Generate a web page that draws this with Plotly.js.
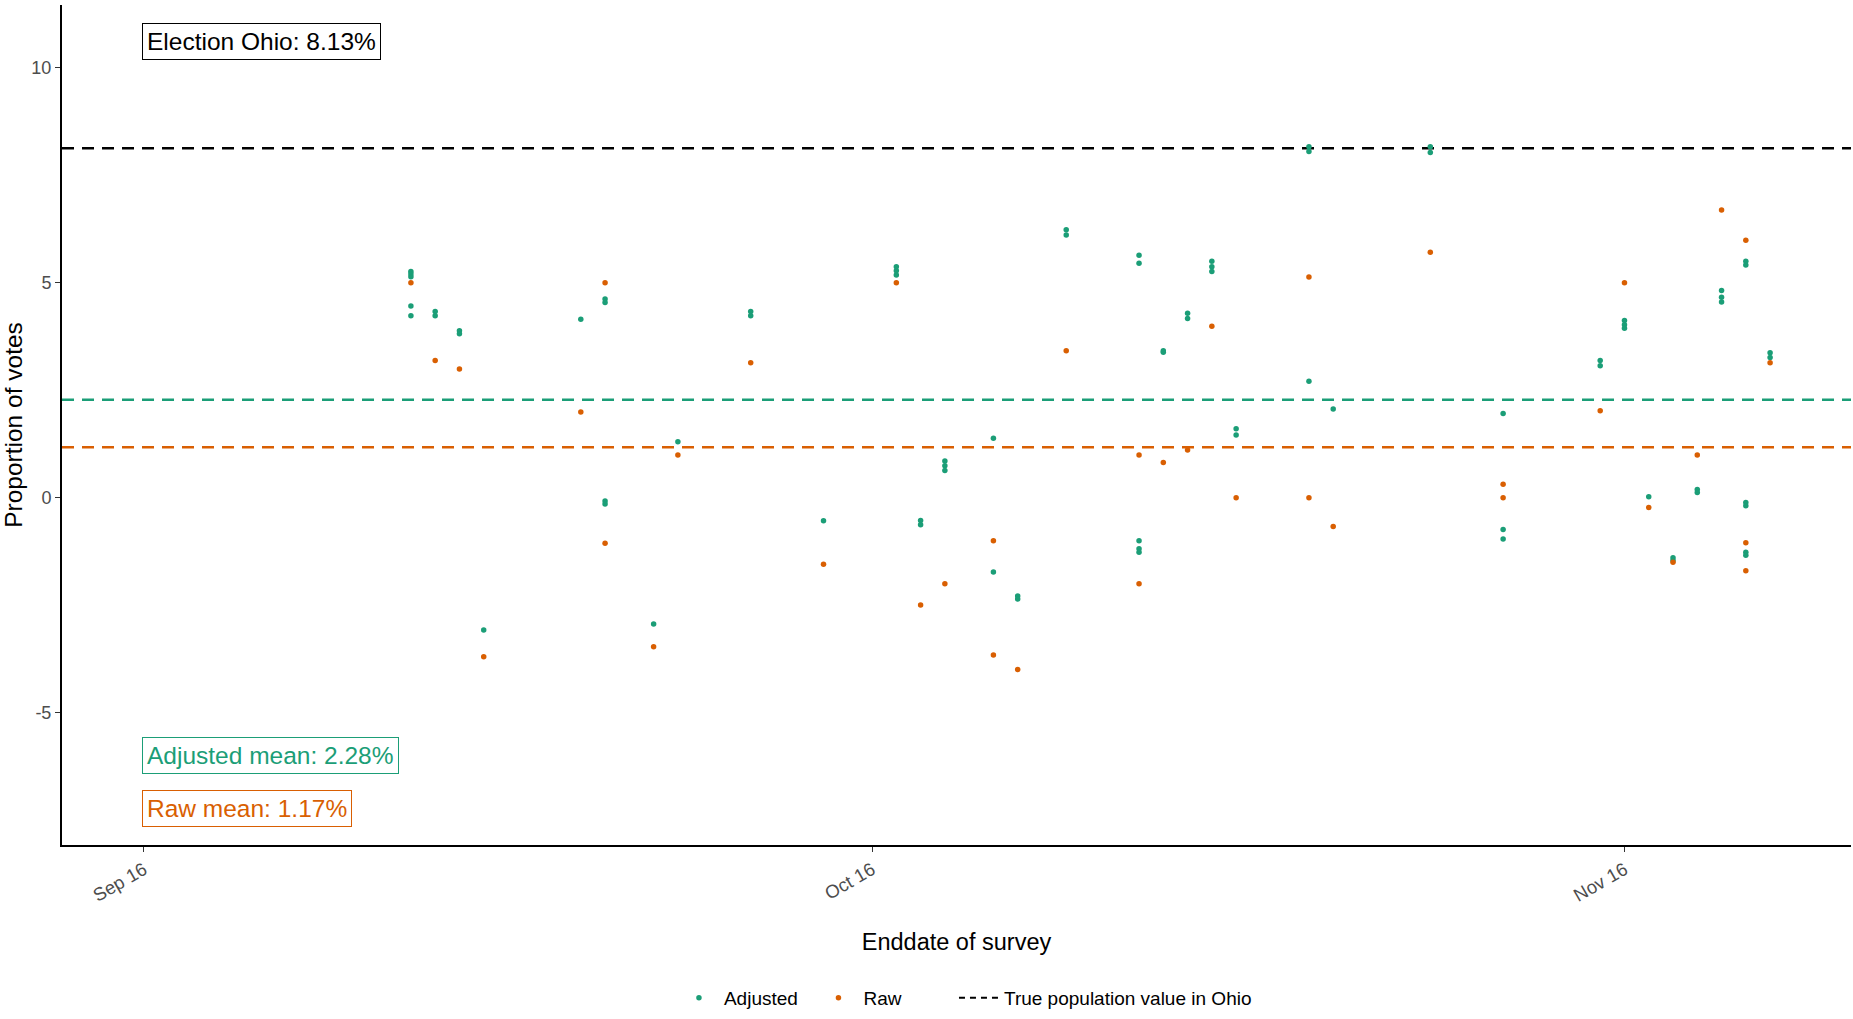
<!DOCTYPE html>
<html>
<head>
<meta charset="utf-8">
<script src="https://cdn.plot.ly/plotly-3.0.1.min.js"></script>
<style>
  html, body { margin: 0; padding: 0; background: #ffffff; }
  #chart { width: 1853px; height: 1019px; }
</style>
</head>
<body>
<div id="chart"></div>
<script>
// ---- Data ----
const adjustedDates = [
  '2016-09-12','2016-09-12','2016-09-12','2016-09-12','2016-09-12',
  '2016-09-13','2016-09-13',
  '2016-09-14','2016-09-14',
  '2016-09-15',
  '2016-09-19',
  '2016-09-20','2016-09-20','2016-09-20','2016-09-20',
  '2016-09-22',
  '2016-09-23',
  '2016-09-26','2016-09-26',
  '2016-09-29',
  '2016-10-02','2016-10-02','2016-10-02',
  '2016-10-03','2016-10-03',
  '2016-10-04','2016-10-04','2016-10-04',
  '2016-10-06','2016-10-06',
  '2016-10-07','2016-10-07',
  '2016-10-09','2016-10-09',
  '2016-10-12','2016-10-12','2016-10-12','2016-10-12','2016-10-12',
  '2016-10-13','2016-10-13',
  '2016-10-14','2016-10-14',
  '2016-10-15','2016-10-15','2016-10-15',
  '2016-10-16','2016-10-16',
  '2016-10-19','2016-10-19','2016-10-19',
  '2016-10-20',
  '2016-10-24','2016-10-24',
  '2016-10-27','2016-10-27','2016-10-27',
  '2016-10-31','2016-10-31',
  '2016-11-01','2016-11-01','2016-11-01',
  '2016-11-02',
  '2016-11-03','2016-11-03',
  '2016-11-04','2016-11-04',
  '2016-11-05','2016-11-05','2016-11-05',
  '2016-11-06','2016-11-06','2016-11-06','2016-11-06','2016-11-06','2016-11-06',
  '2016-11-07','2016-11-07'
];
const adjustedValues = [
  5.26, 5.20, 5.14, 4.46, 4.23,
  4.33, 4.23,
  3.88, 3.81,
  -3.08,
  4.15,
  4.62, 4.54, -0.08, -0.15,
  -2.94,
  1.30,
  4.33, 4.23,
  -0.54,
  5.37, 5.28, 5.18,
  -0.53, -0.63,
  0.85, 0.74, 0.63,
  1.38, -1.73,
  -2.29, -2.36,
  6.23, 6.11,
  5.64, 5.45, -1.00, -1.19, -1.27,
  3.42, 3.38,
  4.29, 4.17,
  5.50, 5.37, 5.26,
  1.60, 1.46,
  8.16, 8.05, 2.71,
  2.06,
  8.16, 8.03,
  1.96, -0.74, -0.96,
  3.19, 3.07,
  4.12, 4.02, 3.94,
  0.02,
  -1.40, -1.46,
  0.19, 0.12,
  4.82, 4.66, 4.55,
  5.50, 5.41, -0.11, -0.19, -1.27, -1.34,
  3.37, 3.26
];

const rawDates = [
  '2016-09-12','2016-09-13','2016-09-14','2016-09-15','2016-09-19',
  '2016-09-20','2016-09-20','2016-09-22','2016-09-23','2016-09-26',
  '2016-09-29','2016-10-02','2016-10-03','2016-10-04','2016-10-06',
  '2016-10-06','2016-10-07','2016-10-09','2016-10-12','2016-10-12',
  '2016-10-13','2016-10-14','2016-10-15','2016-10-16','2016-10-19',
  '2016-10-19','2016-10-20','2016-10-24','2016-10-27','2016-10-27',
  '2016-10-31','2016-11-01','2016-11-02','2016-11-03','2016-11-04',
  '2016-11-05','2016-11-06','2016-11-06','2016-11-06','2016-11-07'
];
const rawValues = [
  5.00, 3.19, 2.99, -3.70, 1.99,
  5.00, -1.06, -3.47, 0.99, 3.14,
  -1.55, 5.00, -2.50, -2.00, -1.00,
  -3.66, -4.00, 3.42, 0.99, -2.00,
  0.82, 1.11, 3.99, 0.00, 5.13,
  0.00, -0.67, 5.71, 0.31, 0.00,
  2.02, 5.00, -0.23, -1.50, 0.99,
  6.69, 5.99, -1.05, -1.70, 3.14
];

const electionValue = 8.13;
const adjustedMean = 2.28;
const rawMean = 1.17;

const tickDates = ['2016-09-01', '2016-10-01', '2016-11-01'];
const tickLabels = ['Sep 16', 'Oct 16', 'Nov 16'];
const yTicks = [-5, 0, 5, 10];

const seriesNames = ['Adjusted', 'Raw', 'True population value in Ohio'];
const labelTexts = ['Election Ohio: 8.13%', 'Adjusted mean: 2.28%', 'Raw mean: 1.17%'];

// ---- Styling ----
const GREEN = '#1B9E77';
const ORANGE = '#D95F02';
const SANS = '"Liberation Sans", Arial, sans-serif';
const NBSP = '\u00A0';

const traces = [
  {
    type: 'scatter', mode: 'markers', name: seriesNames[0] + NBSP.repeat(2),
    x: adjustedDates, y: adjustedValues,
    marker: { color: GREEN, size: 5.5 }
  },
  {
    type: 'scatter', mode: 'markers', name: seriesNames[1] + NBSP.repeat(9),
    x: rawDates, y: rawValues,
    marker: { color: ORANGE, size: 5.5 }
  },
  {
    // legend entry only for the election reference line
    type: 'scatter', mode: 'lines', name: seriesNames[2],
    x: [null], y: [null],
    line: { color: '#000000', width: 2, dash: '6px,5px' }
  }
];

function hline(y, color) {
  return {
    type: 'line', xref: 'paper', x0: 0, x1: 1, yref: 'y', y0: y, y1: y,
    line: { color: color, width: 2.5, dash: '12px,8px' }, layer: 'below'
  };
}

const layout = {
  width: 1853, height: 1019,
  margin: { l: 62, r: 2, t: 5, b: 174 },
  paper_bgcolor: '#ffffff', plot_bgcolor: '#ffffff',
  font: { family: SANS, color: '#000000' },
  showlegend: true,
  legend: {
    orientation: 'h', x: 0.505, xanchor: 'center', y: -0.182, yanchor: 'middle',
    font: { family: SANS, size: 19, color: '#000000' },
    itemwidth: 40, tracegroupgap: 0
  },
  xaxis: {
    type: 'date',
    range: ['2016-08-28 15:00', '2016-11-10 08:00'],
    tickvals: tickDates, ticktext: tickLabels, tickangle: -30,
    tickfont: { family: SANS, size: 18.5, color: '#4d4d4d' },
    ticks: 'outside', ticklen: 5, tickcolor: '#333333', tickwidth: 1,
    showline: true, linecolor: '#000000', linewidth: 2,
    showgrid: false, zeroline: false,
    title: { text: 'Enddate of survey', font: { family: SANS, size: 23.5, color: '#000000' }, standoff: 29 }
  },
  yaxis: {
    range: [-8.08, 11.46],
    tickvals: yTicks, ticktext: yTicks.map(String),
    tickfont: { family: SANS, size: 18, color: '#4d4d4d' },
    ticks: 'outside', ticklen: 5, tickcolor: '#333333', tickwidth: 1,
    showline: true, linecolor: '#000000', linewidth: 2,
    showgrid: false, zeroline: false,
    title: { text: 'Proportion of votes', font: { family: SANS, size: 24.5, color: '#000000' }, standoff: 5 }
  },
  shapes: [
    hline(electionValue, '#000000'),
    hline(adjustedMean, GREEN),
    hline(rawMean, ORANGE)
  ],
  annotations: [
    {
      x: tickDates[0], y: 10.6, xref: 'x', yref: 'y', xanchor: 'left', yanchor: 'middle', xshift: -2,
      text: labelTexts[0], showarrow: false,
      font: { family: SANS, size: 24.5, color: '#000000' },
      bgcolor: '#ffffff', bordercolor: '#000000', borderwidth: 1, borderpad: 4
    },
    {
      x: tickDates[0], y: -6.0, xref: 'x', yref: 'y', xanchor: 'left', yanchor: 'middle', xshift: -2,
      text: labelTexts[1], showarrow: false,
      font: { family: SANS, size: 24.5, color: GREEN },
      bgcolor: '#ffffff', bordercolor: GREEN, borderwidth: 1, borderpad: 4
    },
    {
      x: tickDates[0], y: -7.22, xref: 'x', yref: 'y', xanchor: 'left', yanchor: 'middle', xshift: -2,
      text: labelTexts[2], showarrow: false,
      font: { family: SANS, size: 24.5, color: ORANGE },
      bgcolor: '#ffffff', bordercolor: ORANGE, borderwidth: 1, borderpad: 4
    }
  ]
};

Plotly.newPlot('chart', traces, layout, { displayModeBar: false, staticPlot: true });
</script>
</body>
</html>
